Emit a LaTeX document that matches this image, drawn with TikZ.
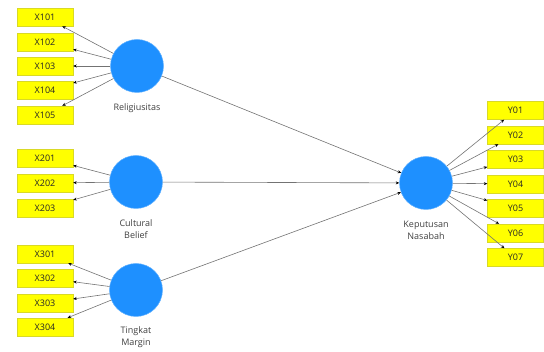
\documentclass[tikz,border=0pt]{standalone}
\usepackage{fontspec}
\setmainfont{Open Sans}
\usetikzlibrary{arrows.meta}
\definecolor{lvblue}{RGB}{30,144,255}
\definecolor{ind}{RGB}{255,255,0}
\begin{document}
\begin{tikzpicture}[x=1pt,y=-1pt,
  ibox/.style={draw=ind!70!gray,line width=0.4pt,fill=ind,minimum width=56pt,minimum height=18pt,inner sep=0pt,font=\fontsize{9}{10}\selectfont,text=black!85},
  lv/.style={circle,fill=lvblue,draw=lvblue!70!white,line width=0.5pt,minimum size=53pt,inner sep=0pt},
  lab/.style={font=\fontsize{9}{12}\selectfont,text=black!75,align=center},
  con/.style={draw=black!55,line width=0.6pt,-{Stealth[length=3.5pt,width=3pt,black]}}]
\useasboundingbox (0,0) rectangle (544,352);
% latent variables
\node[lv] (R) at (137,66) {};
\node[lv] (C) at (136,182) {};
\node[lv] (T) at (136,290) {};
\node[lv] (K) at (426,183) {};
\node[lab] (Rl) at (137,108) {Religiusitas};
\node[lab] (Cl) at (136,229.5) {Cultural\\Belief};
\node[lab] (Tl) at (136,337) {Tingkat\\Margin};
\node[lab] (Kl) at (426,230.5) {Keputusan\\Nasabah};
% indicators left
\node[ibox] (x101) at (45,17) {X101};
\node[ibox] (x102) at (45,42) {X102};
\node[ibox] (x103) at (45,66) {X103};
\node[ibox] (x104) at (45,90.5) {X104};
\node[ibox] (x105) at (45,115) {X105};
\node[ibox] (x201) at (45,158) {X201};
\node[ibox] (x202) at (45,183) {X202};
\node[ibox] (x203) at (45,208) {X203};
\node[ibox] (x301) at (45,254) {X301};
\node[ibox] (x302) at (45,278) {X302};
\node[ibox] (x303) at (45,303) {X303};
\node[ibox] (x304) at (45,327) {X304};
% indicators right
\node[ibox] (y01) at (515.5,110.5) {Y01};
\node[ibox] (y02) at (515.5,135) {Y02};
\node[ibox] (y03) at (515.5,159.5) {Y03};
\node[ibox] (y04) at (515.5,184) {Y04};
\node[ibox] (y05) at (515.5,208.5) {Y05};
\node[ibox] (y06) at (515.5,233) {Y06};
\node[ibox] (y07) at (515.5,257.5) {Y07};
% loadings
\foreach \t in {x101,x102,x103,x104,x105} \draw[con] (R) -- (\t);
\foreach \t in {x201,x202,x203} \draw[con] (C) -- (\t);
\foreach \t in {x301,x302,x303,x304} \draw[con] (T) -- (\t);
\foreach \t in {y01,y02,y03,y04,y05,y06,y07} \draw[con] (K) -- (\t);
% paths
\draw[con] (R) -- (K);
\draw[con] (C) -- (K);
\draw[con] (T) -- (K);
\end{tikzpicture}
\end{document}
